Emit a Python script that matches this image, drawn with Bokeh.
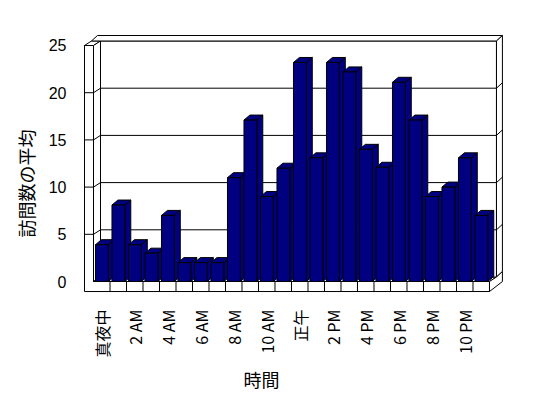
import numpy as np
from bokeh.plotting import figure
from bokeh.models import Range1d, FixedTicker, Title
from bokeh.embed import file_html
from bokeh.resources import INLINE

# ---- data ----
hours = ["真夜中", "1 AM", "2 AM", "3 AM", "4 AM", "5 AM", "6 AM", "7 AM",
         "8 AM", "9 AM", "10 AM", "11 AM", "正午", "1 PM", "2 PM", "3 PM",
         "4 PM", "5 PM", "6 PM", "7 PM", "8 PM", "9 PM", "10 PM", "11 PM"]
visits = [3.9, 8.1, 3.9, 3.0, 7.0, 2.0, 2.0, 2.0, 11.0, 17.1, 9.0, 12.0,
          23.2, 13.1, 23.2, 22.2, 14.0, 12.1, 21.1, 17.1, 9.0, 10.0, 13.1, 7.0]
y_ticks = [0, 5, 10, 15, 20, 25]
x_tick_idx = list(range(0, 24, 2))
x_title = "時間"
y_title = "訪問数の平均"

# ---- 3D box geometry (data units) ----
n = len(hours)
L0, R0 = -0.5, n - 0.5          # floor front edges
YMAX = 25
W = 0.545                        # left wall front strip width
T = 1.06                         # floor thickness
DX, DY = 0.424, 0.477            # depth to back wall
DX2, DY2 = 0.36, 0.58            # back wall thickness
BX, BY = 0.36, 0.53              # bar depth
BL, BR = -0.38, 0.40             # bar front face offsets

p = figure(width=548, height=398, output_backend="svg", toolbar_location=None,
           x_range=Range1d(-1.167, 24.41), y_range=Range1d(-1.27, 26.27),
           min_border_left=82, min_border_right=44, min_border_top=33,
           min_border_bottom=105)
p.outline_line_color = None
p.xgrid.visible = False
p.ygrid.visible = False
p.background_fill_color = "white"
p.border_fill_color = "white"

walls_x = [
    [L0 - W, R0, R0, L0, L0, L0 - W],
    [L0 - W, L0, L0 + DX, L0 + DX - W],
    [L0, L0, L0 + DX, L0 + DX],
    [L0, R0, R0 + DX, L0 + DX],
    [L0 + DX, R0 + DX, R0 + DX, L0 + DX],
    [L0 + DX - W, R0 + DX, R0 + DX + DX2, L0 + DX - W + DX2],
    [R0 + DX, R0 + DX, R0 + DX + DX2, R0 + DX + DX2],
    [R0, R0, R0 + DX, R0 + DX + DX2, R0 + DX + DX2],
]
walls_y = [
    [-T, -T, 0, 0, YMAX, YMAX],
    [YMAX, YMAX, YMAX + DY, YMAX + DY],
    [0, YMAX, YMAX + DY, DY],
    [0, 0, DY, DY],
    [DY, DY, YMAX + DY, YMAX + DY],
    [YMAX + DY, YMAX + DY, YMAX + DY + DY2, YMAX + DY + DY2],
    [DY, YMAX + DY, YMAX + DY + DY2, DY + DY2],
    [-T, 0, DY, DY + DY2, DY + DY2 - T],
]
p.patches(walls_x, walls_y, fill_color="white", line_color="black", line_width=1)

# gridlines
gx, gy = [], []
for v in y_ticks[1:-1]:
    gx.append([L0 - W, L0, L0 + DX, R0 + DX, R0 + DX + DX2])
    gy.append([v, v, v + DY, v + DY, v + DY + DY2])
p.multi_line(gx, gy, line_color="black", line_width=1)

# floor front divisions
dx_, dy_ = [], []
for i in range(1, n):
    dx_.append([i - 0.5, i - 0.5])
    dy_.append([-T, 0])
p.multi_line(dx_, dy_, line_color="black", line_width=1)

# bars
xi = np.arange(n)
vals = np.array(visits)
lefts = xi + BL
rights = xi + BR
side_x = [[r, r, r + BX, r + BX] for r in rights]
side_y = [[0, v, v + BY, BY] for v in vals]
top_x = [[l, r, r + BX, l + BX] for l, r in zip(lefts, rights)]
top_y = [[v, v, v + BY, v + BY] for v in vals]
p.patches(side_x, side_y, fill_color="#000080", line_color="black", line_width=1)
p.patches(top_x, top_y, fill_color="#000080", line_color="black", line_width=1)
p.quad(left=lefts, right=rights, bottom=0, top=vals,
       fill_color="#000080", line_color="black", line_width=1)

# axes
p.yaxis.ticker = FixedTicker(ticks=y_ticks)
p.yaxis.axis_line_color = None
p.yaxis.major_tick_line_color = None
p.yaxis.minor_tick_line_color = None
p.yaxis.major_label_standoff = 10
p.yaxis.major_label_text_font = "Liberation Sans"
p.yaxis.major_label_text_font_size = "16px"
p.yaxis.major_label_text_color = "black"

p.xaxis.ticker = FixedTicker(ticks=x_tick_idx)
p.xaxis.major_label_overrides = {i: hours[i] for i in x_tick_idx}
p.xaxis.major_label_orientation = np.pi / 2
p.xaxis.axis_line_color = None
p.xaxis.major_tick_line_color = None
p.xaxis.minor_tick_line_color = None
p.xaxis.major_label_standoff = 10
p.xaxis.major_label_text_font = "Noto Sans CJK JP"
p.xaxis.major_label_text_font_size = "16px"
p.xaxis.major_label_text_color = "black"

# axis titles
p.add_layout(Title(text=x_title, align="left", offset=161, standoff=7,
                   text_font="Noto Sans CJK JP", text_font_size="18px",
                   text_font_style="normal", text_color="black"), "below")
p.add_layout(Title(text=y_title, align="left", offset=56, standoff=14,
                   text_font="Noto Sans CJK JP", text_font_size="18px",
                   text_font_style="normal", text_color="black"), "left")

open("out.html", "w").write(file_html(p, INLINE))
